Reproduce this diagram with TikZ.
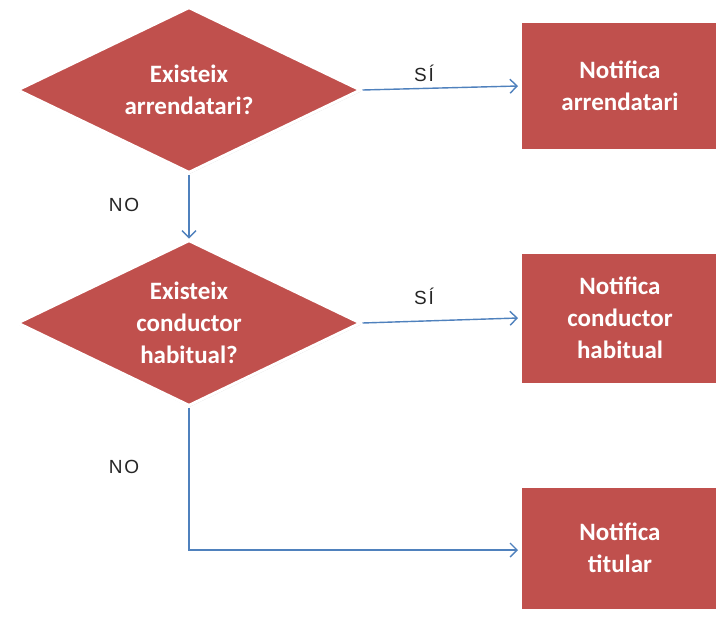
\documentclass[tikz,border=0pt]{standalone}
\usepackage{fontspec}
\setmainfont{Carlito}
\newfontfamily\lblfont[LetterSpace=10]{Liberation Sans}
\usetikzlibrary{shapes.geometric,shadows,arrows.meta}
\definecolor{boxred}{HTML}{C0504D}
\definecolor{linkblue}{HTML}{4F81BD}
\begin{document}
\begin{tikzpicture}[x=1pt,y=-1pt,
  boxtext/.style={text=white,align=center,font=\fontsize{25}{32}\selectfont\bfseries},
  decision/.style={diamond,fill=boxred,draw=white,line width=3pt,
    minimum width=344pt,minimum height=166pt,inner sep=0pt,
    drop shadow={shadow xshift=0.5pt,shadow yshift=-1.5pt,opacity=0.3},
    label={[boxtext]center:#1}},
  action/.style={rectangle,fill=boxred,draw=white,line width=4pt,
    minimum width=200pt,boxtext,
    drop shadow={shadow xshift=0.5pt,shadow yshift=-2pt,opacity=0.3}},
  link/.style={draw=linkblue,line width=1.4pt,-{Straight Barb[length=7pt,width=14pt]}},
  lbl/.style={font=\lblfont\fontsize{19}{21}\selectfont,text=black!85}]
\useasboundingbox (0,0) rectangle (716,619);
\clip (0,0) rectangle (716,619);
\fill[white] (0,0) rectangle (716,619);
\node[decision={Existeix\\arrendatari?}] (d1) at (189,90) {};
\node[decision={Existeix\\conductor\\habitual?}] (d2) at (189,323) {};
\node[action,minimum height=130pt] (b1) at (620,86) {Notifica\\arrendatari};
\node[action,minimum height=133pt] (b2) at (620,318) {Notifica\\conductor\\habitual};
\node[action,minimum height=125pt] (b3) at (620,548) {Notifica\\titular};
\coordinate (c3) at (189,550);
\draw[link] (d1.east) -- (b1.west);
\draw[link] (d1.south) -- (d2.north);
\draw[link] (d2.east) -- (b2.west);
\draw[link] (d2.south) -- (c3) -- (b3.west |- c3);
\node[lbl] (si1) at (424,73) {SÍ};
\node[lbl] (no1) at (124,205) {NO};
\node[lbl] (si2) at (424,296) {SÍ};
\node[lbl] (no2) at (124,467) {NO};
\end{tikzpicture}
\end{document}
